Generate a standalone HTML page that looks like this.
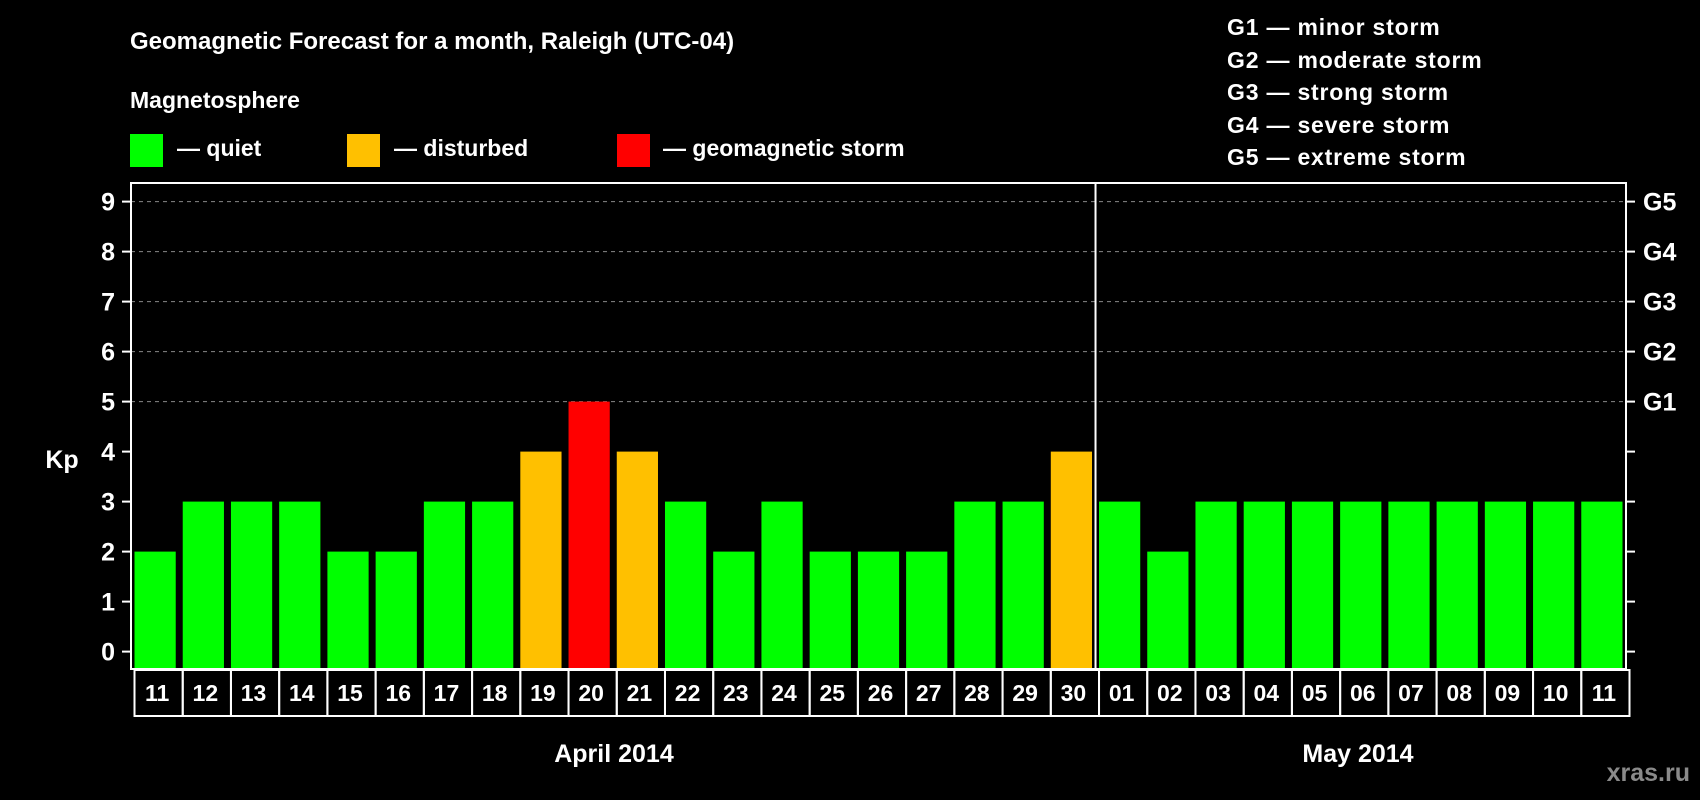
<!DOCTYPE html>
<html><head><meta charset="utf-8"><style>
html,body{margin:0;padding:0;background:#000;}
svg{display:block;font-family:"Liberation Sans",Arial,sans-serif;font-weight:bold;}
</style></head><body>
<svg id="chart" width="1700" height="800" viewBox="0 0 1700 800" xmlns="http://www.w3.org/2000/svg">
<rect width="1700" height="800" fill="#000"/>
<text x="130" y="49" fill="#fff" font-size="24">Geomagnetic Forecast for a month, Raleigh (UTC-04)</text>
<text x="130" y="108" fill="#fff" font-size="23">Magnetosphere</text>
<g><rect x="130" y="134" width="33" height="33" fill="#00ff00"/><text x="177" y="156" fill="#fff" font-size="23">— quiet</text></g>
<g><rect x="347" y="134" width="33" height="33" fill="#ffc000"/><text x="394" y="156" fill="#fff" font-size="23">— disturbed</text></g>
<g><rect x="617" y="134" width="33" height="33" fill="#ff0000"/><text x="663" y="156" fill="#fff" font-size="23">— geomagnetic storm</text></g>
<g fill="#fff" font-size="23" letter-spacing="0.8">
<text x="1227" y="35">G1 — minor storm</text>
<text x="1227" y="68">G2 — moderate storm</text>
<text x="1227" y="100">G3 — strong storm</text>
<text x="1227" y="133">G4 — severe storm</text>
<text x="1227" y="165">G5 — extreme storm</text>
</g>
<text x="62" y="468" fill="#fff" font-size="25" text-anchor="middle">Kp</text>
<g id="plot"></g>
<text x="614" y="762" fill="#fff" font-size="25" text-anchor="middle">April 2014</text>
<text x="1358" y="762" fill="#fff" font-size="25" text-anchor="middle">May 2014</text>
<text x="1690" y="781" fill="#8a8a8a" font-size="25" text-anchor="end">xras.ru</text>
</svg>
<script>
const days = ["11","12","13","14","15","16","17","18","19","20","21","22","23","24","25","26","27","28","29","30","01","02","03","04","05","06","07","08","09","10","11"];
const kpValues = [2,3,3,3,2,2,3,3,4,5,4,3,2,3,2,2,2,3,3,4,3,2,3,3,3,3,3,3,3,3,3];
const yTicks = [0,1,2,3,4,5,6,7,8,9];
const gLabels = ["G1","G2","G3","G4","G5"];
const gLevels = [5,6,7,8,9];
const monthSplitIndex = 20;

const NS="http://www.w3.org/2000/svg";
const L=131,R=1626,T=183,B=669;
const slot=(R-L)/days.length;
function xs(i){return L+i*slot;}
function ys(v){return 651.6-(v)*50;}
function colorFor(v){return v>=5?"#ff0000":(v>=4?"#ffc000":"#00ff00");}
const g=document.getElementById('plot');
function mk(tag,attrs,parent){const e=document.createElementNS(NS,tag);for(const k in attrs)e.setAttribute(k,attrs[k]);(parent||g).appendChild(e);return e;}

gLevels.forEach((v)=>{
  const ln=mk('line',{x1:L,x2:R,y1:ys(v),y2:ys(v),stroke:'#888','stroke-width':1,'stroke-dasharray':'4,4'});
  
  
});
kpValues.forEach((v,i)=>{
  const r=mk('rect',{x:xs(i)+3.5,y:ys(v),width:slot-7,height:B-ys(v),fill:colorFor(v)});
  
  
});
const frame=mk('rect',{x:L,y:T,width:R-L,height:B-T,fill:'none',stroke:'#fff','stroke-width':2});


const div=mk('line',{x1:xs(monthSplitIndex),x2:xs(monthSplitIndex),y1:T,y2:B,stroke:'#fff','stroke-width':2});


yTicks.forEach(v=>{
  const y=ys(v);
  mk('line',{x1:L-9,x2:L,y1:y,y2:y,stroke:'#fff','stroke-width':2});
  mk('line',{x1:R,x2:R+9,y1:y,y2:y,stroke:'#fff','stroke-width':2});
  const t=mk('text',{x:L-16,y:y+9,fill:'#fff','font-size':25,'text-anchor':'end'});
  t.textContent=v;
  
  
});
gLabels.forEach((lab,i)=>{
  const t=mk('text',{x:R+17,y:ys(gLevels[i])+9,fill:'#fff','font-size':25});
  t.textContent=lab;
  
  
});
days.forEach((d,i)=>{
  const bx=mk('rect',{x:xs(i)+3.5,y:B+1,width:slot,height:46,fill:'none',stroke:'#fff','stroke-width':2});
  
  
  const t=mk('text',{x:xs(i)+slot/2+2,y:B+32,fill:'#fff','font-size':23,'text-anchor':'middle'});
  t.textContent=d;
  
  
});
</script>
</body></html>
